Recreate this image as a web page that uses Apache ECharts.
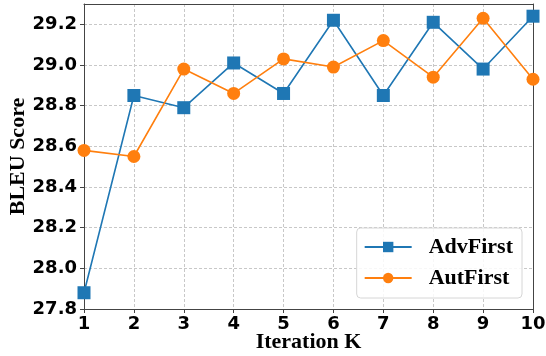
<!DOCTYPE html>
<html>
<head>
<meta charset="utf-8">
<script src="https://cdn.jsdelivr.net/npm/echarts@6/dist/echarts.min.js"></script>
<style>
html, body { margin: 0; padding: 0; background: #fff; }
#chart { width: 546px; height: 356px; }
</style>
</head>
<body>
<div id="chart"></div>
<script>
var iterations = [1, 2, 3, 4, 5, 6, 7, 8, 9, 10];
var advFirst = [27.88, 28.85, 28.79, 29.01, 28.86, 29.22, 28.85, 29.21, 28.98, 29.24];
var autFirst = [28.58, 28.55, 28.98, 28.86, 29.03, 28.99, 29.12, 28.94, 29.23, 28.93];

function pairs(vals) {
    return iterations.map(function (k, i) { return [k, vals[i]]; });
}

var myChart = echarts.init(document.getElementById('chart'));
var gridLine = { show: true, lineStyle: { color: '#c8c8c8', type: [3, 2], width: 1 } };
var spine = { show: true, onZero: false, lineStyle: { color: '#444', width: 1 } };
var option = {
    animation: false,
    grid: { left: 84, right: 13, top: 4, bottom: 47, outerBoundsMode: 'none' },
    legend: {
        right: 24, top: 228,
        orient: 'vertical',
        padding: [8, 9, 9, 7],
        itemGap: 9,
        itemWidth: 47, itemHeight: 13,
        backgroundColor: 'rgba(255,255,255,0.85)',
        borderColor: '#d6d6d6', borderWidth: 1, borderRadius: 4,
        textStyle: { fontFamily: 'Liberation Serif', fontWeight: 'bold', fontSize: 22, color: '#000', padding: [0, 0, 0, 12] },
        data: ['AdvFirst', 'AutFirst']
    },
    xAxis: [{
        type: 'value', min: 1, max: 10, interval: 1,
        name: 'Iteration K', nameLocation: 'middle', nameGap: 22, nameMoveOverlap: false,
        nameTextStyle: { fontFamily: 'Liberation Serif', fontWeight: 'bold', fontSize: 22, color: '#000' },
        axisLine: spine,
        axisTick: { show: true, length: 4, lineStyle: { color: '#444' } },
        axisLabel: { fontFamily: 'DejaVu Sans', fontWeight: 'bold', fontSize: 18, color: '#000', margin: 6 },
        splitLine: gridLine
    }, {
        type: 'value', min: 1, max: 10, position: 'top',
        axisLine: spine, axisTick: { show: false }, axisLabel: { show: false }, splitLine: { show: false }
    }],
    yAxis: [{
        type: 'value', min: 27.8, max: 29.3, interval: 0.2,
        name: 'BLEU Score', nameLocation: 'middle', nameGap: 55, nameMoveOverlap: false,
        nameTextStyle: { fontFamily: 'Liberation Serif', fontWeight: 'bold', fontSize: 22, color: '#000' },
        axisLine: spine,
        axisTick: { show: true, length: 4, lineStyle: { color: '#444' } },
        axisLabel: {
            fontFamily: 'DejaVu Sans', fontWeight: 'bold', fontSize: 18, color: '#000', margin: 7,
            showMaxLabel: false,
            formatter: function (v) { return v.toFixed(1); }
        },
        splitLine: gridLine
    }, {
        type: 'value', min: 27.8, max: 29.3, position: 'right',
        axisLine: spine, axisTick: { show: false }, axisLabel: { show: false }, splitLine: { show: false }
    }],
    series: [{
        name: 'AdvFirst',
        type: 'line',
        data: pairs(advFirst),
        symbol: 'rect', symbolSize: 13,
        color: '#1f77b4',
        lineStyle: { width: 1.6, color: '#1f77b4' },
        itemStyle: { color: '#1f77b4' },
        z: 3
    }, {
        name: 'AutFirst',
        type: 'line',
        data: pairs(autFirst),
        symbol: 'circle', symbolSize: 13,
        color: '#ff7f0e',
        lineStyle: { width: 1.6, color: '#ff7f0e' },
        itemStyle: { color: '#ff7f0e' },
        z: 4
    }]
};
myChart.setOption(option);
window.addEventListener('resize', function () {
    myChart.resize();
});
</script>
</body>
</html>
